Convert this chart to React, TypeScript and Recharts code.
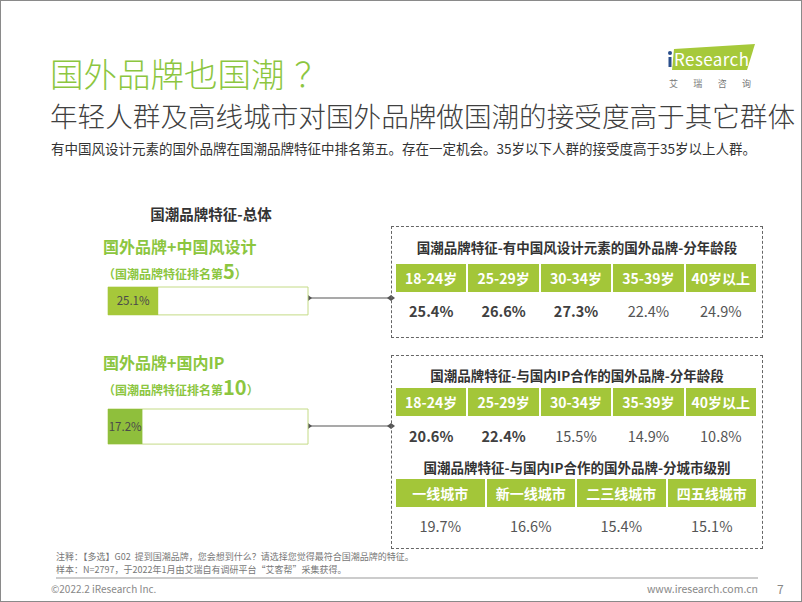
import React from "react";
import { BarChart, Bar, XAxis, YAxis, LabelList } from "recharts";

const overallLabels = ["国外品牌+中国风设计", "国外品牌+国内IP"];
const overallRanks = [5, 10];
const overallShare = [25.1, 17.2];

const ageGroups = ["18-24岁", "25-29岁", "30-34岁", "35-39岁", "40岁以上"];
const cnDesignByAge = [25.4, 26.6, 27.3, 22.4, 24.9];
const ipByAge = [20.6, 22.4, 15.5, 14.9, 10.8];

const cityTiers = ["一线城市", "新一线城市", "二三线城市", "四五线城市"];
const ipByCity = [19.7, 16.6, 15.4, 15.1];

const FONT = "'Noto Sans CJK SC', 'Noto Sans', sans-serif";
const GREEN = "#a3c639";
const TITLE_GREEN = "#8cc63f";

const abs = (left: number, top: number, extra: React.CSSProperties = {}): React.CSSProperties => ({
  position: "absolute",
  left,
  top,
  ...extra,
});

function ShareBar({ value, color, height }: { value: number; color: string; height: number }) {
  const data = [{ name: "share", value }];
  return (
    <BarChart
      width={202}
      height={height + 2}
      data={data}
      layout="vertical"
      margin={{ top: 1, right: 1, bottom: 1, left: 1 }}
      barCategoryGap={0}
    >
      <XAxis type="number" domain={[0, 100]} hide />
      <YAxis type="category" dataKey="name" hide />
      <Bar
        dataKey="value"
        fill={color}
        barSize={height}
        isAnimationActive={false}
        background={{ fill: "#fff", stroke: "#c4db86", strokeWidth: 1 }}
      >
        <LabelList
          dataKey="value"
          position="center"
          formatter={(v: any) => `${v}%`}
          fill="#4a4a4a"
          fontSize={11.5}
          fontFamily={FONT}
        />
      </Bar>
    </BarChart>
  );
}

function HeaderRow({ top, labels }: { top: number; labels: string[] }) {
  return (
    <div style={abs(395, top, { width: 360, height: 28, display: "flex", gap: 2 })}>
      {labels.map((l) => (
        <div
          key={l}
          style={{
            flex: 1,
            background: GREEN,
            color: "#fff",
            fontWeight: 700,
            fontSize: 14,
            lineHeight: "28px",
            textAlign: "center",
          }}
        >
          {l}
        </div>
      ))}
    </div>
  );
}

function ValueRow({ center, values, ref }: { center: number; values: number[]; ref?: number }) {
  return (
    <div style={abs(395, center - 11, { width: 360, height: 22, display: "flex", gap: 2 })}>
      {values.map((v, i) => {
        const strong = ref !== undefined && v > ref;
        return (
          <div
            key={i}
            style={{
              flex: 1,
              textAlign: "center",
              fontSize: 14.5,
              lineHeight: "22px",
              fontWeight: strong ? 700 : 400,
              color: strong ? "#404040" : "#555",
            }}
          >
            {v.toFixed(1)}%
          </div>
        );
      })}
    </div>
  );
}

function BoxTitle({ center, text }: { center: number; text: string }) {
  return (
    <div
      style={abs(390, center - 10, {
        width: 372,
        textAlign: "center",
        fontSize: 13.5,
        lineHeight: "20px",
        fontWeight: 700,
        color: "#333",
      })}
    >
      {text}
    </div>
  );
}

function Connector({ y }: { y: number }) {
  return (
    <g>
      <line x1={307} y1={y} x2={390} y2={y} stroke="#555" strokeWidth={1.2} />
      <path d={`M303 ${y} L307 ${y - 3} L311 ${y} L307 ${y + 3} Z`} fill="#555" />
      <path d={`M386 ${y} L390 ${y - 3} L394 ${y} L390 ${y + 3} Z`} fill="#555" />
    </g>
  );
}

export default function App() {
  return (
    <div
      style={{
        position: "absolute",
        left: 0,
        top: 0,
        width: 802,
        height: 602,
        background: "#fff",
        fontFamily: FONT,
        boxSizing: "border-box",
        border: "1px solid #8a8a8a",
        overflow: "hidden",
      }}
    >
      <div style={abs(49, 52, { fontSize: 33.5, lineHeight: "40px", color: TITLE_GREEN, fontWeight: 300 })}>
        国外品牌也国潮<span style={{ marginLeft: 10 }}>？</span>
      </div>
      <div style={abs(49, 97, { fontSize: 27.6, lineHeight: "34px", color: "#404040", fontWeight: 300 })}>
        年轻人群及高线城市对国外品牌做国潮的接受度高于其它群体
      </div>
      <div style={abs(50, 137, { fontSize: 13.5, lineHeight: "20px", color: "#333" })}>
        有中国风设计元素的国外品牌在国潮品牌特征中排名第五。存在一定机会。35岁以下人群的接受度高于35岁以上人群。
      </div>

      {/* logo */}
      <svg style={abs(0, 0)} width={802} height={602}>
        <polygon points="673,48 754,43 746,69 671,69" fill="#a6c93a" />
        <text x={668} y={65} fontSize={17} fill="#fff" fontFamily={FONT} textLength={80}>
          iResearch
        </text>
        <rect x={667.5} y={56} width={3} height={10} fill="#2b4f8c" />
        <circle cx={669} cy={52} r={2} fill="#2b4f8c" />
        <text x={668} y={86} fontSize={9} fill="#777" fontFamily={FONT} textLength={82}>
          艾瑞咨询
        </text>
        <Connector y={297} />
        <Connector y={425} />
        <line x1={55} y1={577} x2={757} y2={577} stroke="#999" strokeWidth={1} />
      </svg>

      <div style={abs(110, 203, { width: 200, textAlign: "center", fontSize: 14.5, fontWeight: 700, lineHeight: "20px", color: "#333" })}>
        国潮品牌特征-总体
      </div>

      {overallLabels.map((label, i) => {
        const top = i === 0 ? 235 : 351;
        return (
          <React.Fragment key={label}>
            <div style={abs(102, top, { fontSize: 16, fontWeight: 700, lineHeight: "20px", color: TITLE_GREEN })}>
              {label}
            </div>
            <div style={abs(102, top + 24, { fontSize: 12, fontWeight: 700, lineHeight: "22px", color: TITLE_GREEN })}>
              （国潮品牌特征排名第<span style={{ fontSize: 20 }}>{overallRanks[i]}</span>）
            </div>
          </React.Fragment>
        );
      })}

      <div style={abs(106, 283)}>
        <ShareBar value={overallShare[0]} color="#a6c83a" height={31} />
      </div>
      <div style={abs(106, 405)}>
        <ShareBar value={overallShare[1]} color="#8fbf3c" height={39} />
      </div>

      {/* box 1 */}
      <div style={abs(390, 225, { width: 372, height: 112, border: "1px dashed #666", boxSizing: "border-box" })} />
      <BoxTitle center={246} text="国潮品牌特征-有中国风设计元素的国外品牌-分年龄段" />
      <HeaderRow top={263} labels={ageGroups} />
      <ValueRow center={310} values={cnDesignByAge} ref={overallShare[0]} />

      {/* box 2 */}
      <div style={abs(390, 354, { width: 372, height: 194, border: "1px dashed #666", boxSizing: "border-box" })} />
      <BoxTitle center={374} text="国潮品牌特征-与国内IP合作的国外品牌-分年龄段" />
      <HeaderRow top={387} labels={ageGroups} />
      <ValueRow center={435} values={ipByAge} ref={overallShare[1]} />
      <BoxTitle center={466} text="国潮品牌特征-与国内IP合作的国外品牌-分城市级别" />
      <HeaderRow top={478} labels={cityTiers} />
      <ValueRow center={525} values={ipByCity} />

      <div style={abs(55, 549, { fontSize: 9, lineHeight: "13px", color: "#777" })}>
        注释：【多选】G02&nbsp; 提到国潮品牌，您会想到什么？请选择您觉得最符合国潮品牌的特征。
      </div>
      <div style={abs(55, 562, { fontSize: 9, lineHeight: "13px", color: "#777" })}>
        样本：N=2797，于2022年1月由艾瑞自有调研平台“艾客帮”采集获得。
      </div>
      <div style={abs(50, 581, { fontSize: 10, lineHeight: "14px", color: "#888" })}>
        ©2022.2 iResearch Inc.
      </div>
      <div style={abs(600, 581, { width: 157, textAlign: "right", fontSize: 10.5, lineHeight: "14px", color: "#888" })}>
        www.iresearch.com.cn
      </div>
      <div style={abs(776, 580, { fontSize: 12, lineHeight: "16px", color: "#888" })}>7</div>
    </div>
  );
}
